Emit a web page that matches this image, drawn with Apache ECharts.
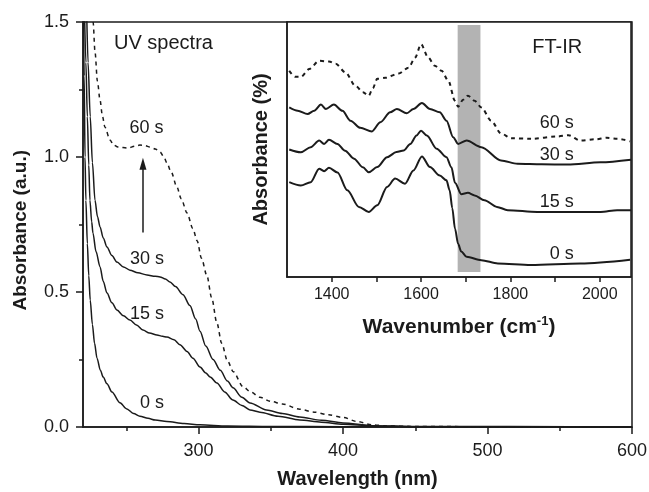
<!DOCTYPE html>
<html><head><meta charset="utf-8">
<script src="https://cdn.jsdelivr.net/npm/echarts@6/dist/echarts.min.js"></script>
<style>html,body{margin:0;padding:0;background:#fff}#c{width:649px;height:492px}</style>
</head><body><div id="c"></div>
<script>
// ---- UV spectra (wavelength nm, absorbance a.u.) ----
const uv0s = [[220.3,1.55],[220.8,1.3],[221.4,1.0],[222,0.84],[223,0.68],[224,0.56],[225,0.47],[226.5,0.38],[228,0.31],[229.7,0.255],[232,0.21],[234,0.185],[236.6,0.16],[240,0.13],[245.6,0.09],[250,0.068],[255,0.050],[259.4,0.040],[265,0.032],[270,0.026],[278,0.020],[290,0.013],[301,0.008],[320,0.004],[350,0.002],[400,0.001],[600,0]];
const uv15s = [[221,1.55],[222,1.35],[223,1.15],[224,0.97],[224.8,0.84],[226,0.76],[226.9,0.718],[229,0.65],[231.8,0.593],[234,0.54],[236.6,0.496],[240,0.46],[243.5,0.433],[248,0.412],[252.5,0.396],[257,0.378],[261.5,0.359],[266,0.348],[271.2,0.341],[275,0.336],[278.1,0.333],[283,0.323],[287.1,0.305],[292,0.28],[296.1,0.255],[301,0.222],[305,0.20],[308,0.185],[312.7,0.163],[318,0.13],[323.8,0.100],[330,0.080],[335.6,0.063],[342.5,0.055],[355,0.040],[370,0.026],[385,0.018],[400,0.010],[420,0.004],[450,0.001],[600,0]];
const uv30s = [[222.5,1.55],[223.5,1.35],[225,1.15],[226.5,0.98],[228.3,0.84],[230,0.78],[231.8,0.741],[234,0.70],[236.6,0.667],[240,0.635],[243.5,0.611],[248,0.593],[252.5,0.581],[258,0.571],[264.3,0.563],[270,0.558],[273.3,0.556],[277,0.548],[280.2,0.537],[284,0.52],[289.2,0.49],[294,0.45],[298,0.40],[301,0.355],[305,0.30],[310,0.25],[315,0.21],[320,0.17],[323.8,0.145],[330,0.11],[335.6,0.089],[347,0.063],[358,0.050],[370,0.037],[385,0.025],[400,0.015],[420,0.005],[450,0.002],[600,0]];
const uv60s = [[226,1.56],[227,1.50],[228.3,1.39],[230,1.28],[231.8,1.21],[233.5,1.15],[235.2,1.11],[238.7,1.063],[241,1.045],[244.2,1.037],[251,1.033],[256,1.040],[259.4,1.044],[263,1.042],[266.4,1.037],[270,1.030],[273.3,1.019],[276,1.000],[278.1,0.978],[281,0.945],[285,0.889],[288,0.845],[292,0.793],[296,0.735],[299,0.690],[302,0.625],[305.8,0.560],[309,0.480],[312.7,0.385],[316,0.310],[320,0.245],[324,0.205],[330.7,0.150],[336,0.130],[342.5,0.110],[350,0.095],[358,0.085],[370,0.066],[380,0.055],[390,0.045],[400,0.035],[410,0.020],[420,0.008],[430,0.004],[450,0.002],[500,0.001],[600,0.0]];

// ---- FT-IR inset (wavenumber cm-1, absorbance %, offset traces) ----
const ir0s = [[1305,37.2],[1331,35.9],[1353,37.2],[1372,42.5],[1383,41.5],[1394,42.8],[1413,41],[1435,34],[1461,27.5],[1483,25.5],[1502,28.1],[1524,35.3],[1542,38.6],[1564,36.6],[1583,41.8],[1602,47.3],[1620,43.1],[1642,39.8],[1657,37.9],[1664,34],[1670,27],[1676,19],[1683,13],[1690,10],[1702,7.9],[1735,6.6],[1772,5.3],[1846,4.7],[1957,5.3],[2068,6.8]];
const ir15s = [[1305,50],[1331,48.9],[1353,50.9],[1372,53.5],[1383,52.2],[1394,53.8],[1413,52.2],[1430,49.5],[1450,46.4],[1470,43],[1483,41.1],[1502,43.1],[1524,47],[1545,49],[1561,49.6],[1576,52.2],[1590,55.5],[1600,57.4],[1613,55.5],[1635,50.3],[1657,47],[1668,43],[1676,37],[1690,32.5],[1705,33],[1720,32],[1742,30.1],[1770,27.5],[1794,26.2],[1860,25.5],[1928,25.5],[2002,25.5],[2039,26.2],[2070,26.2]];
const ir30s = [[1305,66.5],[1324,65.2],[1346,63.9],[1361,65.2],[1376,67.6],[1387,65.9],[1405,67.6],[1424,65.2],[1442,61.3],[1464,58.5],[1490,57.1],[1509,60.7],[1531,64.6],[1546,65.9],[1568,64.2],[1583,65.9],[1602,68.2],[1620,65.9],[1642,64.6],[1657,61.3],[1672,54.8],[1683,52.2],[1702,53.5],[1735,50.9],[1779,45.7],[1816,44.4],[1870,44.2],[1928,44.1],[2002,45],[2070,46]];
const ir60s = [[1305,80.9],[1318,78.5],[1331,78.5],[1350,81.6],[1372,84.8],[1394,84.5],[1409,83.6],[1431,80.2],[1453,75],[1470,72.5],[1483,71.1],[1492,74],[1502,77.7],[1520,78.1],[1550,79.8],[1572,82.1],[1587,86.1],[1600,91.3],[1616,86.1],[1631,82.8],[1646,80.9],[1661,77],[1676,69.1],[1683,66.8],[1694,69.5],[1705,71.1],[1720,69.1],[1735,66.5],[1757,61.3],[1779,56.3],[1802,54.4],[1846,54.2],[1905,55.1],[1930,55.6],[1957,53.5],[1990,54],[2016,54.6],[2040,54.2],[2068,53.2]];
const irBand = [1682, 1733];

// ---- ticks ----
const uvXTicks = [300, 400, 500, 600];
const uvXMinor = [250, 350, 450, 550];
const irXTicks = [1400, 1600, 1800, 2000];
const irXTickAll = [1400, 1500, 1600, 1700, 1800, 1900, 2000];

// ---- annotations (data coordinates) ----
const uvLabels = [['UV spectra', 275.7, 1.419, 20], ['60 s', 263.9, 1.107, 18], ['30 s', 264.3, 0.622, 18], ['15 s', 264.3, 0.419, 18], ['0 s', 267.8, 0.089, 18]];
const irLabels = [['FT-IR', 1905, 90.2, 20], ['60 s', 1904, 60.2, 18], ['30 s', 1904, 48, 18], ['15 s', 1904, 29.3, 18], ['0 s', 1915, 9, 18]];
const uvArrow = [[261.5, 0.72], [261.5, 0.975]];

const FONT = '"Liberation Sans", Arial, sans-serif';
const ink = '#1b1b1b';
const chart = echarts.init(document.getElementById('c'));

function curve(data, x, y, dashed, w) {
  return { type: 'line', xAxisIndex: x, yAxisIndex: y, data: data, showSymbol: false, symbol: 'none',
    smooth: 0.3, smoothMonotone: 'x', clip: true, silent: true,
    lineStyle: { color: ink, width: w, type: dashed ? [4, 4] : 'solid' } };
}
function labels(arr, x, y) {
  return { type: 'scatter', xAxisIndex: x, yAxisIndex: y, symbolSize: 1, silent: true,
    itemStyle: { color: 'rgba(0,0,0,0)', opacity: 1 },
    data: arr.map(a => ({ value: [a[1], a[2]], name: a[0],
      label: { show: true, position: 'inside', formatter: a[0], fontSize: a[3], fontFamily: FONT, color: ink, opacity: 1 } })),
    z: 10 };
}
const plain = v => String(v);

const mainY = { gridIndex: 0, type: 'value', min: 0, max: 1.5, interval: 0.5,
  axisLine: { show: true, lineStyle: { color: ink, width: 1.5 } },
  axisTick: { show: true, length: 7, lineStyle: { color: ink, width: 1.5 } },
  minorTick: { show: true, splitNumber: 2, length: 4, lineStyle: { color: ink, width: 1.5 } },
  splitLine: { show: false },
  axisLabel: { formatter: v => v.toFixed(1), fontSize: 18, fontFamily: FONT, color: ink, margin: 14 } };

chart.setOption({
  animation: false,
  backgroundColor: '#fff',
  graphic: [
    { type: 'text', left: 11, top: 150, rotation: Math.PI / 2, z: 10,
      style: { text: 'Absorbance (a.u.)', fontSize: 19, fontWeight: 'bold', fontFamily: FONT, fill: ink },
      bounding: 'all' }
  ],
  grid: [
    { left: 83, top: 22, width: 549, height: 405, show: true, borderColor: ink, borderWidth: 1.5, backgroundColor: '#fff', outerBoundsMode: 'none', containLabel: false },
    { left: 287, top: 22, width: 344, height: 255, show: true, borderColor: ink, borderWidth: 1.5, backgroundColor: '#fff', outerBoundsMode: 'none', containLabel: false },
    { left: 83, top: 22, width: 549, height: 405, outerBoundsMode: 'none', containLabel: false }
  ],
  xAxis: [
    { gridIndex: 0, type: 'value', min: 220, max: 600,
      axisLine: { show: true, lineStyle: { color: ink, width: 1.5 } },
      axisTick: { show: true, customValues: uvXTicks, length: 7, lineStyle: { color: ink, width: 1.5 } },
      splitLine: { show: false },
      axisLabel: { customValues: uvXTicks, formatter: plain, fontSize: 18, fontFamily: FONT, color: ink, margin: 15 },
      name: 'Wavelength (nm)', nameLocation: 'middle', nameGap: 42,
      nameTextStyle: { fontSize: 20, fontWeight: 'bold', fontFamily: FONT, color: ink } },
    { gridIndex: 1, type: 'value', min: 1300, max: 2070,
      axisLine: { show: true, lineStyle: { color: ink, width: 1.5 } },
      axisTick: { show: true, customValues: irXTickAll, length: 5, lineStyle: { color: ink, width: 1.5 } },
      splitLine: { show: false },
      axisLabel: { customValues: irXTicks, formatter: plain, fontSize: 16, fontFamily: FONT, color: ink, margin: 10 },
      name: 'Wavenumber (cm{sup|-1})', nameLocation: 'middle', nameGap: 38,
      nameTextStyle: { fontSize: 21, fontWeight: 'bold', fontFamily: FONT, color: ink,
        rich: { sup: { fontSize: 13, fontWeight: 'bold', fontFamily: FONT, color: ink, verticalAlign: 'top', padding: [0, 0, 12, 0] } } } },
    { gridIndex: 2, type: 'value', min: 220, max: 600,
      axisLine: { show: false },
      axisTick: { show: true, customValues: uvXMinor, length: 4, lineStyle: { color: ink, width: 1.5 } },
      splitLine: { show: false }, axisLabel: { show: false } }
  ],
  yAxis: [
    mainY,
    { gridIndex: 1, type: 'value', min: 0, max: 100,
      axisLine: { show: true, lineStyle: { color: ink, width: 1.5 } },
      axisTick: { show: false }, splitLine: { show: false }, axisLabel: { show: false },
      name: 'Absorbance (%)', nameLocation: 'middle', nameGap: 16,
      nameTextStyle: { fontSize: 20, fontWeight: 'bold', fontFamily: FONT, color: ink } },
    { gridIndex: 2, type: 'value', min: 0, max: 1.5, show: false }
  ],
  series: [
    curve(uv0s, 0, 0, false, 1.5),
    curve(uv15s, 0, 0, false, 1.5),
    curve(uv30s, 0, 0, false, 1.5),
    Object.assign(curve(uv60s, 0, 0, true, 1.5), {
      markLine: { silent: true, symbol: ['none', 'triangle'], symbolSize: [7, 12], animation: false,
        lineStyle: { color: ink, width: 1.5, type: 'solid' }, label: { show: false },
        data: [[{ coord: uvArrow[0] }, { coord: uvArrow[1] }]] } }),
    Object.assign(curve(ir0s, 1, 1, false, 2), {
      markArea: { silent: true, itemStyle: { color: '#b3b3b3' },
        data: [[{ coord: [irBand[0], 2] }, { coord: [irBand[1], 98.8] }]] } }),
    curve(ir15s, 1, 1, false, 2),
    curve(ir30s, 1, 1, false, 2),
    curve(ir60s, 1, 1, true, 2),
    labels(uvLabels, 0, 0),
    labels(irLabels, 1, 1)
  ]
});
</script></body></html>
